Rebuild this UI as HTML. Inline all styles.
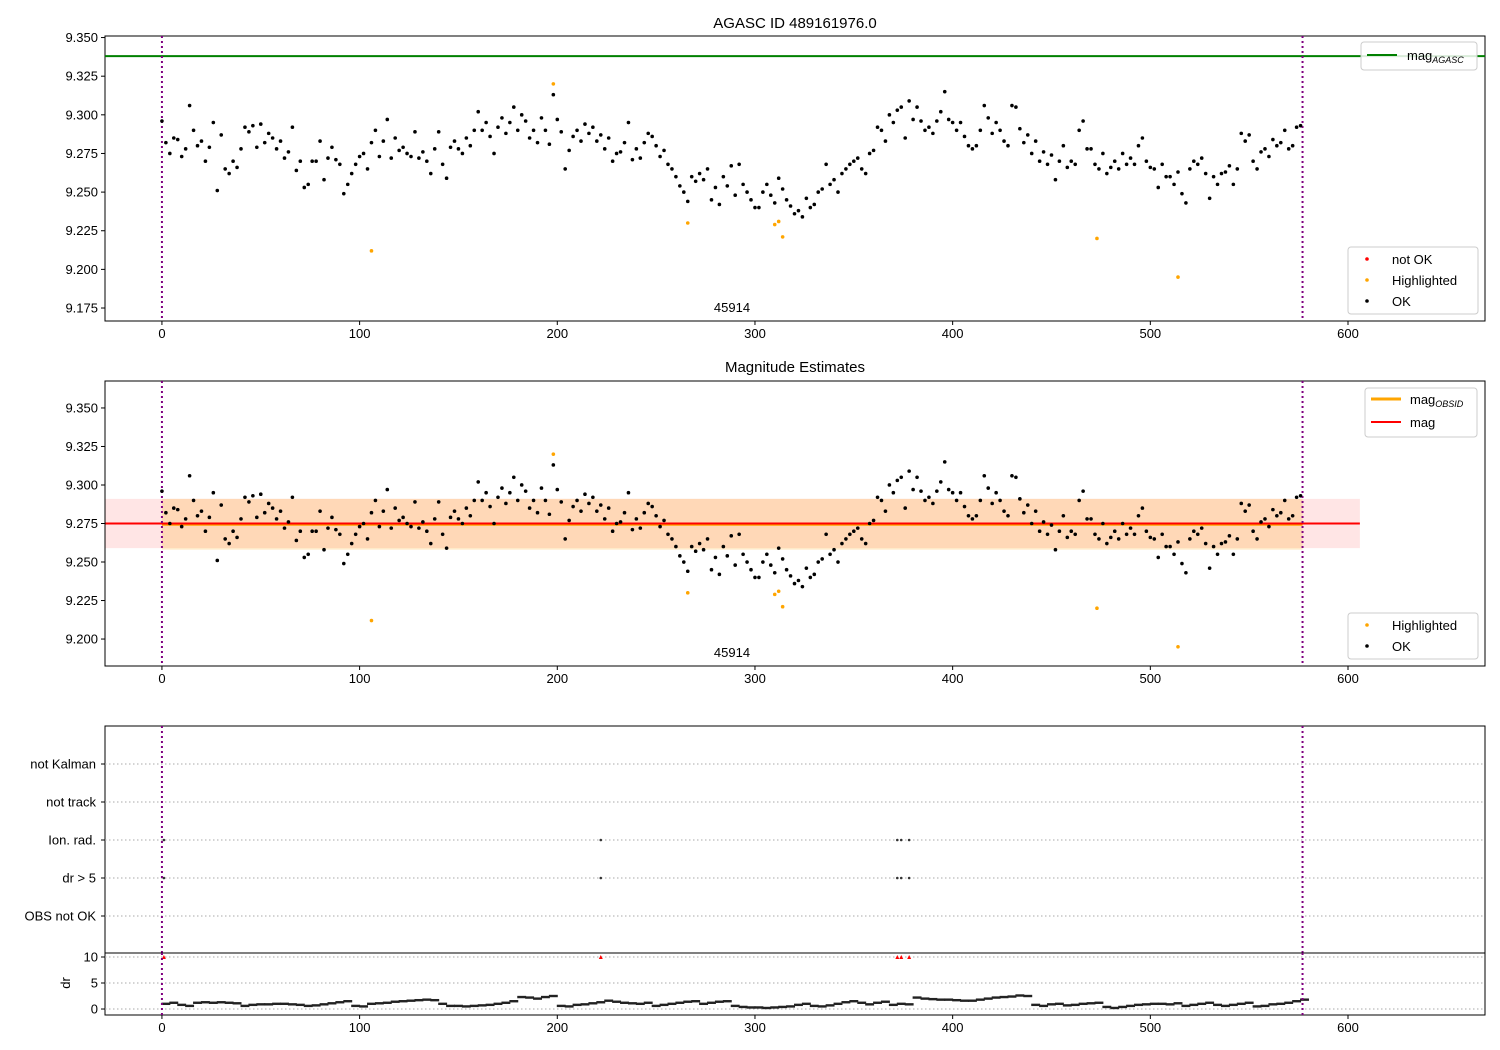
<!DOCTYPE html>
<html><head><meta charset="utf-8"><style>
body{margin:0;background:#fff}
svg{display:block;font-family:"Liberation Sans","DejaVu Sans",sans-serif}
</style></head><body>
<svg id="c" width="1500" height="1050"></svg>
<script>
const magIdx0=0, magStep=2;
const magVals=[
9.296,9.282,9.275,9.285,9.284,9.273,9.278,9.306,9.29,9.28,
9.283,9.27,9.279,9.295,9.251,9.287,9.265,9.262,9.27,9.266,
9.278,9.292,9.289,9.293,9.279,9.294,9.282,9.288,9.285,9.278,
9.283,9.272,9.276,9.292,9.264,9.27,9.253,9.255,9.27,9.27,
9.283,9.258,9.272,9.279,9.271,9.268,9.249,9.255,9.262,9.268,
9.273,9.275,9.265,9.282,9.29,9.273,9.283,9.297,9.272,9.285,
9.277,9.279,9.275,9.273,9.289,9.272,9.276,9.27,9.262,9.278,
9.289,9.268,9.259,9.279,9.283,9.278,9.275,9.285,9.28,9.29,
9.302,9.29,9.295,9.286,9.275,9.292,9.298,9.288,9.295,9.305,
9.29,9.3,9.296,9.285,9.29,9.282,9.298,9.29,9.281,9.313,
9.297,9.289,9.265,9.277,9.286,9.29,9.283,9.294,9.288,9.292,
9.283,9.287,9.278,9.285,9.27,9.275,9.276,9.282,9.295,9.271,
9.278,9.272,9.282,9.288,9.286,9.28,9.273,9.277,9.268,9.265,
9.26,9.254,9.25,9.244,9.26,9.257,9.262,9.258,9.265,9.245,
9.253,9.242,9.26,9.254,9.267,9.248,9.268,9.255,9.25,9.245,
9.24,9.24,9.25,9.255,9.248,9.243,9.259,9.252,9.245,9.241,
9.236,9.238,9.234,9.246,9.24,9.242,9.25,9.252,9.268,9.255,
9.258,9.25,9.262,9.265,9.268,9.27,9.272,9.265,9.262,9.275,
9.277,9.292,9.29,9.283,9.3,9.295,9.303,9.305,9.285,9.309,
9.297,9.305,9.296,9.29,9.292,9.288,9.296,9.302,9.315,9.297,
9.295,9.29,9.295,9.286,9.28,9.278,9.28,9.29,9.306,9.298,
9.288,9.295,9.29,9.283,9.28,9.306,9.305,9.291,9.282,9.287,
9.275,9.283,9.27,9.276,9.268,9.274,9.258,9.27,9.28,9.266,
9.27,9.268,9.29,9.296,9.278,9.278,9.268,9.265,9.275,9.262,
9.266,9.27,9.265,9.275,9.268,9.272,9.268,9.28,9.285,9.27,
9.266,9.265,9.253,9.268,9.26,9.26,9.255,9.263,9.249,9.243,
9.265,9.27,9.268,9.272,9.262,9.246,9.26,9.255,9.262,9.263,
9.267,9.255,9.265,9.288,9.283,9.287,9.27,9.265,9.276,9.278,
9.273,9.284,9.28,9.282,9.29,9.278,9.28,9.292,9.293];
const hlIdx=[106,198,266,310,312,314,473,514];
const hlVals=[9.212,9.320,9.230,9.229,9.231,9.221,9.220,9.195];
const drStep=4;
const drVals=[
1.0,1.2,0.8,0.6,1.2,1.3,1.2,1.3,1.2,1.1,
0.6,0.8,0.9,0.9,1.0,1.0,0.9,0.8,0.6,0.7,
0.9,1.1,1.3,1.5,0.6,0.5,1.0,1.1,1.2,1.4,
1.5,1.6,1.7,1.8,1.7,1.0,0.6,0.6,0.5,0.6,
0.7,0.8,1.0,1.2,1.5,2.3,2.2,2.0,2.3,2.5,
0.6,0.5,0.8,0.9,1.1,1.3,1.6,1.4,1.2,1.1,
1.0,1.2,0.6,0.8,1.0,1.2,1.4,1.5,1.0,1.2,
1.4,1.5,0.6,0.4,0.3,0.3,0.2,0.3,0.4,0.5,
0.8,1.0,0.6,0.5,0.7,1.0,1.3,1.5,1.2,0.9,
1.2,1.4,0.8,1.0,0.9,2.2,2.0,1.9,1.8,1.8,
1.7,1.6,1.6,1.8,2.0,2.2,2.3,2.4,2.6,2.5,
0.8,0.6,0.9,1.0,0.7,0.8,1.0,1.1,1.2,0.4,
0.2,0.4,0.6,0.8,0.9,1.0,1.0,0.9,1.1,0.6,
0.8,1.0,1.2,0.8,0.6,0.8,1.0,1.2,0.5,0.6,
0.9,1.0,1.2,1.5,1.8];
const notOkIdx=[1,222,372,374,378];
const flagCats=["OBS not OK","dr > 5","Ion. rad.","not track","not Kalman"];
const flagIdx=[1,222,372,374,378];
const flagCat=[[1,2],[1,2],[1,2],[1,2],[1,2]];
const xTicks=[0,100,200,300,400,500,600];
const y1Ticks=[9.175,9.2,9.225,9.25,9.275,9.3,9.325,9.35];
const y2Ticks=[9.2,9.225,9.25,9.275,9.3,9.325,9.35];
const drTicks=[0,5,10];
const magAgasc=9.338, magMean=9.275, magObsid=9.2745, bandLo=9.259, bandHi=9.291;
const obsStart=0, obsEnd=577;

const svg=document.getElementById('c');
const NS='http://www.w3.org/2000/svg';
function el(t,a,p){const e=document.createElementNS(NS,t);for(const k in a)e.setAttribute(k,a[k]);(p||svg).appendChild(e);return e;}
const L=105,R=1485;
const xs=v=>L+(v+28.8)/(669.3+28.8)*(R-L);
function ys(t,b,lo,hi){return v=>b-(v-lo)/(hi-lo)*(b-t);}
const y1=ys(36,321,9.1666,9.351), y2=ys(381,666,9.1825,9.3675), y4=ys(953,1015,-1.15,10.77);
const yc=i=>916-i*38;

function frame(t,b,name){const r=el('rect',{x:L,y:t,width:R-L,height:b-t,fill:'none',stroke:'#000','stroke-width':1});}
function xaxis(b,name){const g=el('g',{});
 xTicks.forEach(v=>{el('line',{x1:xs(v),x2:xs(v),y1:b,y2:b+4,stroke:'#000'},g);const t=el('text',{x:xs(v),y:b+17,'font-size':13,'text-anchor':'middle'},g);t.textContent=v;});}
function yaxis(ticks,f,name,fmt){const g=el('g',{});
 ticks.forEach(v=>{const y=f(v);el('line',{x1:L-4,x2:L,y1:y,y2:y,stroke:'#000'},g);const t=el('text',{x:L-7,y:y+4.5,'font-size':13,'text-anchor':'end'},g);t.textContent=fmt(v);});}
function vlines(t,b){[obsStart,obsEnd].forEach(v=>{const l=el('line',{x1:xs(v),x2:xs(v),y1:t,y2:b,stroke:'#800080','stroke-width':2,'stroke-dasharray':'2,3'});});}
function points(f,name){const g=el('g',{});
 magVals.forEach((v,i)=>{el('circle',{cx:xs(magIdx0+i*magStep),cy:f(v),r:1.8,fill:'#000'},g);});
 const h=el('g',{});
 hlVals.forEach((v,i)=>{el('circle',{cx:xs(hlIdx[i]),cy:f(v),r:1.8,fill:'orange'},h);});}
function txt(x,y,s,sz,anc,name){const t=el('text',{x:x,y:y,'font-size':sz,'text-anchor':anc||'middle'});t.textContent=s;return t;}
function legendBox(x,y,w,h,name){const g=el('g',{});el('rect',{x:x,y:y,width:w,height:h,rx:3,fill:'#fff','fill-opacity':0.85,stroke:'#ccc'},g);return g;}

// Panel 1
frame(36,321,'top-axes-frame');
el('line',{x1:L,x2:R,y1:y1(magAgasc),y2:y1(magAgasc),stroke:'green','stroke-width':2});
vlines(36,321);points(y1,'ok-points-top');
xaxis(321,'x-axis-top');yaxis(y1Ticks,y1,'y-axis-top',v=>v.toFixed(3));
txt(795,28,'AGASC ID 489161976.0',15,'middle','top-title');
txt(732,312,'45914',13,'middle','obsid-label-top');
let g=legendBox(1361,42,116,28,'legend-agasc');
el('line',{x1:1367,x2:1397,y1:55,y2:55,stroke:'green','stroke-width':2},g);
let t=el('text',{x:1407,y:60,'font-size':13},g);t.innerHTML='mag<tspan font-size="9" font-style="italic" dy="3">AGASC</tspan>';
g=legendBox(1348,247,130,67,'legend-points-top');
[['red','not OK',260],['orange','Highlighted',281],['#000','OK',302]].forEach(a=>{el('circle',{cx:1367,cy:a[2]-1,r:1.8,fill:a[0]},g);const tt=el('text',{x:1392,y:a[2]+4,'font-size':13},g);tt.textContent=a[1];});

// Panel 2
el('rect',{x:L,y:y2(bandHi),width:xs(606)-L,height:y2(bandLo)-y2(bandHi),fill:'#ff0000','fill-opacity':0.1});
el('rect',{x:xs(obsStart),y:y2(bandHi),width:xs(obsEnd)-xs(obsStart),height:y2(bandLo-0.001)-y2(bandHi),fill:'#ffa500','fill-opacity':0.2});
el('line',{x1:xs(obsStart),x2:xs(obsEnd),y1:y2(magObsid),y2:y2(magObsid),stroke:'orange','stroke-width':3});
el('line',{x1:L,x2:xs(606),y1:y2(magMean),y2:y2(magMean),stroke:'red','stroke-width':2});
frame(381,666,'middle-axes-frame');
vlines(381,666);points(y2,'ok-points-middle');
xaxis(666,'x-axis-middle');yaxis(y2Ticks,y2,'y-axis-middle',v=>v.toFixed(3));
txt(795,372,'Magnitude Estimates',15,'middle','middle-title');
txt(732,657,'45914',13,'middle','obsid-label-middle');
g=legendBox(1365,388,112,49,'legend-mag');
el('line',{x1:1371,x2:1401,y1:399,y2:399,stroke:'orange','stroke-width':3},g);
t=el('text',{x:1410,y:404,'font-size':13},g);t.innerHTML='mag<tspan font-size="9" font-style="italic" dy="3">OBSID</tspan>';
el('line',{x1:1371,x2:1401,y1:422,y2:422,stroke:'red','stroke-width':2},g);
t=el('text',{x:1410,y:427,'font-size':13},g);t.textContent='mag';
g=legendBox(1348,613,130,46,'legend-points-middle');
[['orange','Highlighted',626],['#000','OK',647]].forEach(a=>{el('circle',{cx:1367,cy:a[1]==='OK'?646:625,r:1.8,fill:a[0]},g);const tt=el('text',{x:1392,y:a[2]+4,'font-size':13},g);tt.textContent=a[1];});

// Panel 3 flags
frame(726,953,'flags-axes-frame');
g=el('g',{});
flagCats.forEach((c,i)=>{el('line',{x1:L,x2:R,y1:yc(i),y2:yc(i),stroke:'#aaa','stroke-dasharray':'1.5,2.5'},g);el('line',{x1:L-4,x2:L,y1:yc(i),y2:yc(i),stroke:'#000'},g);const tt=el('text',{x:L-9,y:yc(i)+4.5,'font-size':13,'text-anchor':'end'},g);tt.textContent=c;});
g=el('g',{});
flagIdx.forEach((x,i)=>flagCat[i].forEach(c=>el('circle',{cx:xs(x),cy:yc(c),r:1.3,fill:'#333'},g)));
vlines(726,953);

// Panel 4 dr
frame(953,1015,'dr-axes-frame');
g=el('g',{});
drTicks.forEach(v=>el('line',{x1:L,x2:R,y1:y4(v),y2:y4(v),stroke:'#aaa','stroke-dasharray':'1.5,2.5'},g));
g=el('g',{});
drVals.forEach((v,i)=>el('rect',{x:xs(i*drStep)-0.5,y:y4(v)-1.2,width:xs(drStep)-xs(0)+1,height:2.4,fill:'#222'},g));
g=el('g',{});
notOkIdx.forEach(x=>{const cx=xs(x),cy=y4(10);el('path',{d:`M${cx-2},${cy+2}L${cx+2},${cy+2}L${cx},${cy-2}Z`,fill:'red'},g);});
vlines(953,1015);
yaxis(drTicks,y4,'dr-y-axis',v=>v);
xaxis(1015,'x-axis-bottom');
t=txt(70,983,'dr',13,'middle','dr-axis-title');t.setAttribute('transform','rotate(-90 70 983)');
</script>
</body></html>
